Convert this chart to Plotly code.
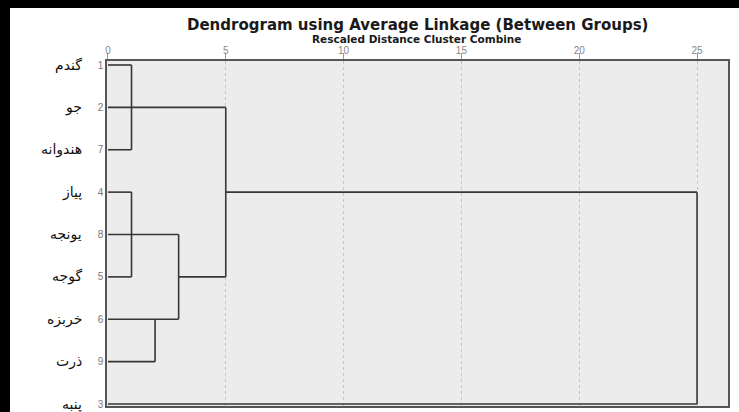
import plotly.graph_objects as go

# ---- data ----
case_numbers = ["1", "2", "7", "4", "8", "5", "6", "9", "3"]
case_names = ["گندم", "جو", "هندوانه", "پیاز", "یونجه", "گوجه", "خربزه", "ذرت", "پنبه"]
x_ticks = [0, 5, 10, 15, 20, 25]

# horizontal segments: (row index, x start, x end)
h_rows = [0, 2, 1, 3, 5, 4, 6, 7, 5, 3, 8]
h_x0 = [0, 0, 0, 0, 0, 0, 0, 0, 3, 5, 0]
h_x1 = [1, 1, 5, 1, 1, 3, 3, 2, 5, 25, 25]
# vertical segments: (x level, row start, row end)
v_x = [1, 1, 3, 2, 5, 25]
v_r0 = [0, 3, 4, 6, 1, 3]
v_r1 = [2, 5, 6, 7, 5, 8]

W, H = 739, 412
L, R, T, B = 107, 728, 61, 406   # plot area in pixels

xs, ys = [], []
for r, a, b in zip(h_rows, h_x0, h_x1):
    xs += [a, b, None]
    ys += [r, r, None]
for x, a, b in zip(v_x, v_r0, v_r1):
    xs += [x, x, None]
    ys += [a, b, None]

fig = go.Figure()
fig.add_trace(go.Scatter(x=xs, y=ys, mode="lines",
                         line=dict(color="#363636", width=1.6),
                         hoverinfo="skip", showlegend=False))

for i, name in enumerate(case_names):
    fig.add_annotation(x=(84 - L) / (R - L), xref="paper", xanchor="right",
                       y=i, yref="y", yanchor="middle", text=name, showarrow=False,
                       font=dict(family="DejaVu Sans", size=14, color="#111"))

pw, ph = R - L, B - T
def px_x(p):
    return (p - L) / pw
def px_y(p):
    return (B - p) / ph

# black scan border bands (left and top)
fig.add_shape(type="rect", xref="paper", yref="paper", x0=px_x(-2), x1=px_x(10),
              y0=px_y(H + 2), y1=px_y(-2), fillcolor="black", line_width=0, layer="above")
fig.add_shape(type="rect", xref="paper", yref="paper", x0=px_x(-2), x1=px_x(W + 2),
              y0=px_y(8), y1=px_y(-2), fillcolor="black", line_width=0, layer="above")

fig.add_annotation(x=(417 - L) / pw, xref="paper", y=px_y(25), yref="paper", yanchor="middle",
                   text="<b>Dendrogram using Average Linkage (Between Groups)</b>",
                   showarrow=False, font=dict(family="DejaVu Sans", size=15, color="#1a1a1a"))
fig.add_annotation(x=(416 - L) / pw, xref="paper", y=px_y(39), yref="paper", yanchor="middle",
                   text="<b>Rescaled Distance Cluster Combine</b>",
                   showarrow=False, font=dict(family="DejaVu Sans", size=10.5, color="#1a1a1a"))

fig.update_layout(
    width=W, height=H,
    margin=dict(l=L, r=W - R, t=T, b=H - B),
    paper_bgcolor="white", plot_bgcolor="#ececec",
    xaxis=dict(range=[0 - 0.04, (R - L) / 23.6], side="top", automargin=False,
               tickvals=x_ticks, ticktext=[str(v) for v in x_ticks],
               ticks="outside", ticklen=6, tickcolor="#999", tickwidth=1,
               ticklabelstandoff=-5,
               tickfont=dict(family="Arial", size=10, color="#888"),
               showgrid=True, gridcolor="#c4c4c4", griddash="dot", gridwidth=1,
               zeroline=False, showline=True, linecolor="#555", linewidth=1.5, mirror=True),
    yaxis=dict(range=[(B - 65) / 42.375, (T - 65) / 42.375], automargin=False,
               tickvals=list(range(len(case_numbers))), ticktext=case_numbers,
               ticks="", tickfont=dict(family="Arial", size=10, color="#777"),
               showgrid=False, zeroline=False, showline=True, linecolor="#555",
               linewidth=1.5, mirror=True),
)

post = "document.body.style.margin='0';document.body.style.overflow='hidden';"
fig.write_html("out.html", post_script=post, config={"displayModeBar": False})
